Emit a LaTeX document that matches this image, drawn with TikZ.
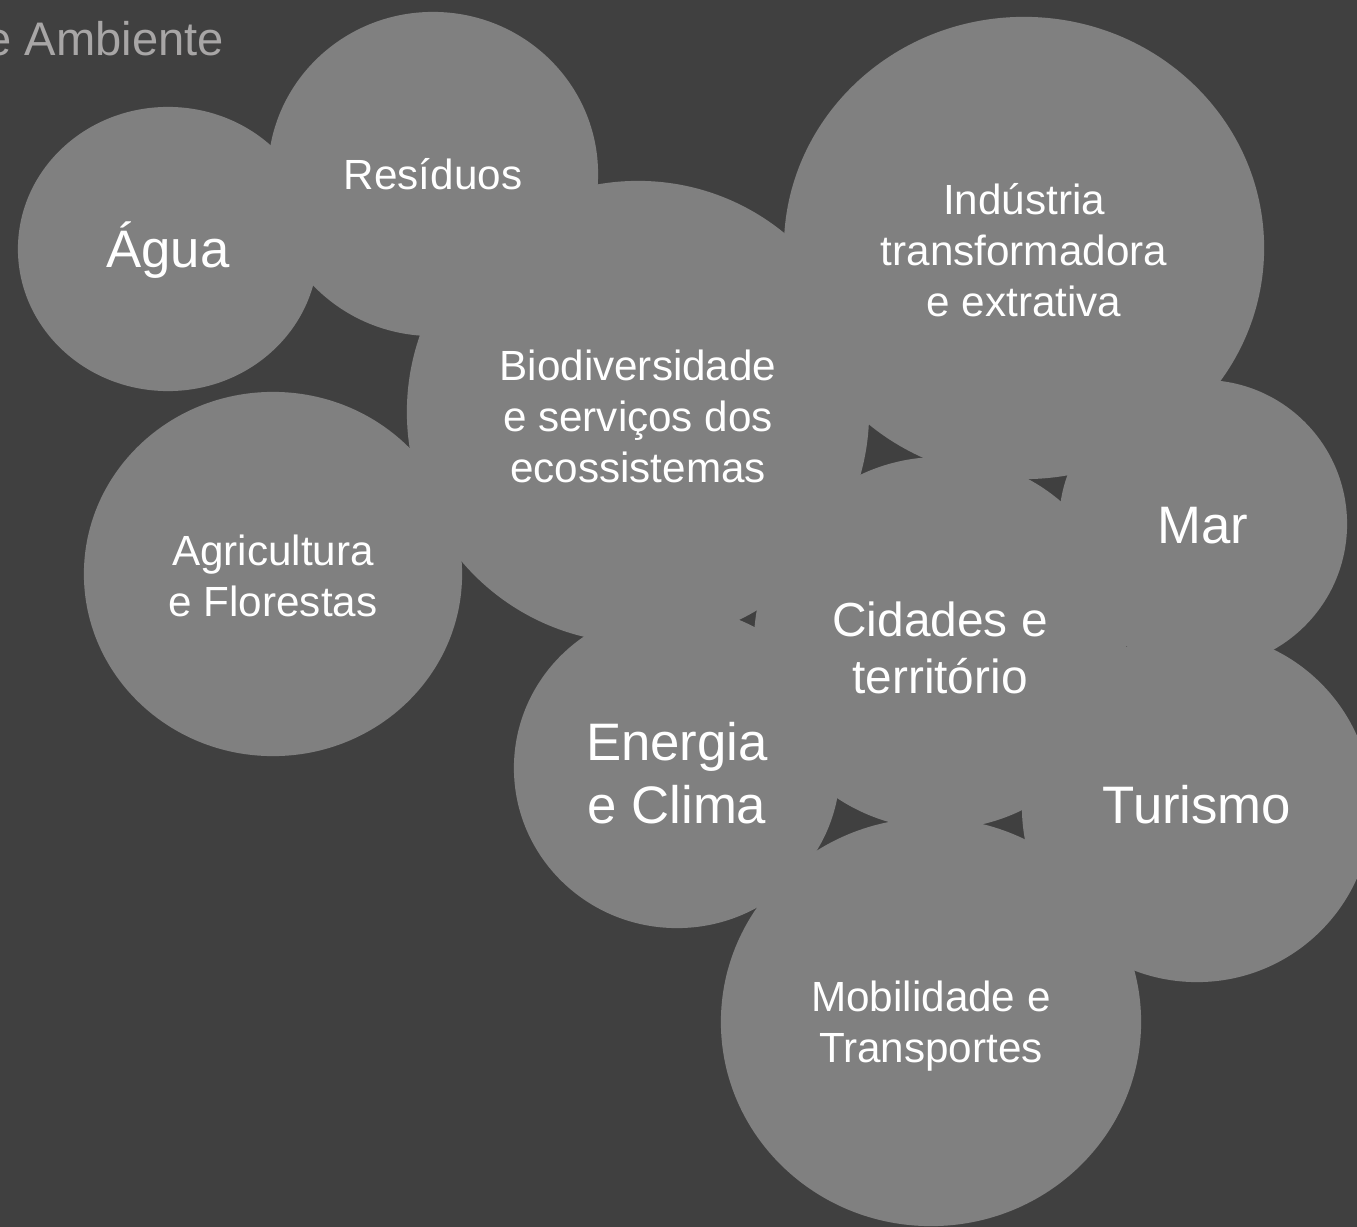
\documentclass[tikz,border=0pt]{standalone}
\usepackage{fontspec}
\setmainfont{Liberation Sans}
\usetikzlibrary{shapes.geometric}
\definecolor{backdrop}{HTML}{404040}
\definecolor{bubblegray}{HTML}{808080}
\definecolor{titlegray}{HTML}{A8A6A6}

\begin{document}
\begin{tikzpicture}[
    x=0.01cm, y=-0.01cm,
    bubble/.style={ellipse, fill=bubblegray, inner sep=0pt},
    caption/.style={text=white, inner sep=0pt, align=center},
    textsmall/.style={font=\fontsize{12}{14.5}\selectfont},
    textmedium/.style={font=\fontsize{13.6}{16.2}\selectfont},
    textlarge/.style={font=\fontsize{15}{17.9}\selectfont}
]
    % Canvas
    \fill[backdrop] (0,0) rectangle (1357,1227);
    \useasboundingbox (0,0) rectangle (1357,1227);
    \clip (0,0) rectangle (1357,1227);

    % Title (cut at the left edge)
    \node[anchor=base west, inner sep=0pt, text=titlegray, font=\fontsize{13.4}{16}\selectfont] (title) at (-15,55) {e Ambiente};

    % Bubbles
    \node[bubble, minimum width=3.00cm, minimum height=2.84cm] (agua) at (168,249) {};
    \node[bubble, minimum width=3.30cm, minimum height=3.24cm] (residuos) at (433,174) {};
    \node[bubble, minimum width=4.62cm, minimum height=4.62cm] (biodiv) at (638,412) {};
    \node[bubble, minimum width=3.78cm, minimum height=3.64cm] (agricultura) at (273,574) {};
    \node[bubble, minimum width=4.80cm, minimum height=4.62cm] (industria) at (1024,248) {};
    \node[bubble, minimum width=2.88cm, minimum height=2.88cm] (mar) at (1203,524) {};
    \node[bubble, minimum width=3.72cm, minimum height=3.72cm] (cidades) at (940,643) {};
    \node[bubble, minimum width=3.26cm, minimum height=3.20cm] (energia) at (677,768) {};
    \node[bubble, minimum width=3.50cm, minimum height=3.50cm] (turismo) at (1197,807) {};
    \node[bubble, minimum width=4.20cm, minimum height=4.08cm] (mobilidade) at (931,1022) {};

    % Captions
    \node[caption, textlarge, yshift=-0.01cm] at (agua) {Água};
    \node[caption, textsmall] at (residuos) {Resíduos};
    \node[caption, textsmall, yshift=-0.045cm] at (biodiv) {Biodiversidade\\e serviços dos\\ecossistemas};
    \node[caption, textsmall, yshift=-0.015cm] at (agricultura) {Agricultura\\e Florestas};
    \node[caption, textsmall, yshift=-0.02cm] at (industria) {Indústria\\transformadora\\e extrativa};
    \node[caption, textlarge, yshift=-0.02cm] at (mar) {Mar};
    \node[caption, textmedium, yshift=-0.05cm] at (cidades) {Cidades e\\território};
    \node[caption, textlarge, yshift=-0.055cm] at (energia) {Energia\\e Clima};
    \node[caption, textlarge, yshift=0.02cm] at (turismo) {Turismo};
    \node[caption, textsmall, yshift=-0.045cm] at (mobilidade) {Mobilidade e\\Transportes};
\end{tikzpicture}
\end{document}
